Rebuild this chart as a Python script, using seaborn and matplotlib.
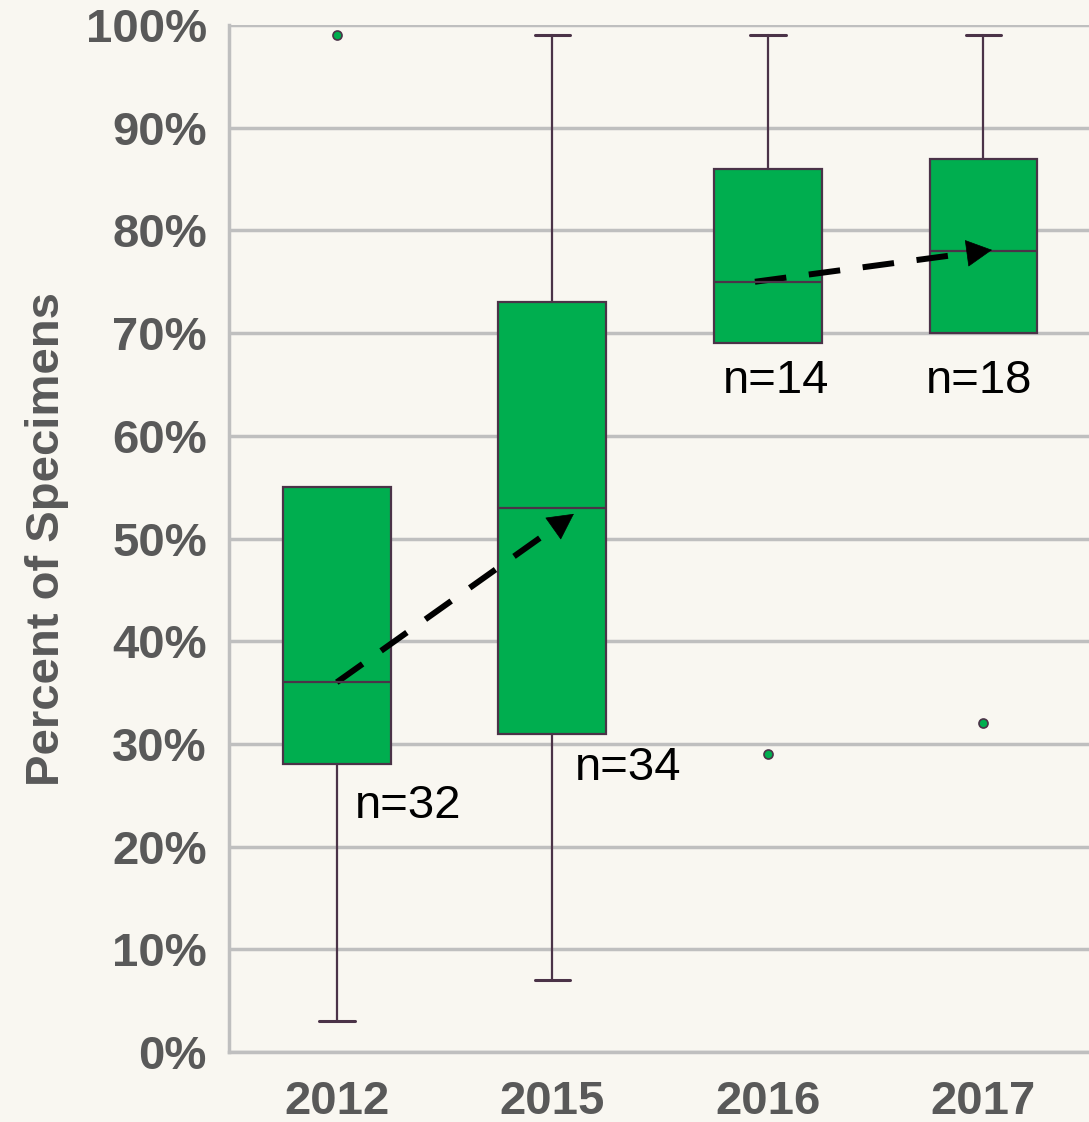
import matplotlib
matplotlib.use("Agg")
import matplotlib.pyplot as plt
import numpy as np
import seaborn as sns

# box statistics (percent)
years = ["2012", "2015", "2016", "2017"]
whis_lo = [3, 7, 69, 70]
q1 = [28, 31, 69, 70]
median = [36, 53, 75, 78]
q3 = [55, 73, 86, 87]
whis_hi = [55, 99, 99, 99]
outliers = [[99], [], [29], [32]]

n_labels = ["n=32", "n=34", "n=14", "n=18"]
n_x = [0.33, 1.35, 2.04, 2.98]
n_y = [24.0, 27.7, 65.3, 65.3]

# trend arrows (start, end) in data coords
arrows = [((0.0, 36.0), (1.10, 52.4)), ((1.94, 75.0), (3.04, 78.1))]

bg = "#F9F7F1"
green = "#00AE4F"
edge = "#4B3348"
grey = "#BFBFBF"
txt = "#595959"

sns.set_theme(style="whitegrid", rc={
    "axes.facecolor": bg, "figure.facecolor": bg,
    "grid.color": grey, "grid.linewidth": 2.5,
    "axes.edgecolor": grey, "axes.linewidth": 2.5,
})
plt.rcParams["font.family"] = ["Liberation Sans", "DejaVu Sans"]

fig = plt.figure(figsize=(10.89, 11.22), dpi=100)
ax = fig.add_axes([0.2103, 0.0624, 0.7897, 0.9153])

stats = []
for i, y in enumerate(years):
    stats.append(dict(label=y, whislo=whis_lo[i], q1=q1[i], med=median[i],
                      q3=q3[i], whishi=whis_hi[i], fliers=outliers[i]))

parts = ax.bxp(stats, positions=range(len(years)), widths=0.5, capwidths=0.165,
               patch_artist=True, showfliers=True,
               boxprops=dict(facecolor=green, edgecolor=edge, linewidth=1.6),
               medianprops=dict(color=edge, linewidth=1.6),
               whiskerprops=dict(color=edge, linewidth=1.6),
               capprops=dict(color=edge, linewidth=2.2),
               flierprops=dict(marker="o", markerfacecolor=green, markeredgecolor=edge,
                               markersize=6.5, markeredgewidth=1.2))
# no caps where the whisker has zero length
for i in range(len(years)):
    if whis_lo[i] == q1[i]:
        parts["caps"][2 * i].set_visible(False)
    if whis_hi[i] == q3[i]:
        parts["caps"][2 * i + 1].set_visible(False)

ax.set_xlim(-0.5, 3.49)
ax.set_ylim(0, 100)

head_px = 25
to_px = ax.transData
to_data = ax.transData.inverted()
for (s, e) in arrows:
    ps, pe = to_px.transform(s), to_px.transform(e)
    d = (pe - ps) / np.hypot(*(pe - ps))
    base = to_data.transform(pe - d * head_px)
    ax.plot([s[0], base[0]], [s[1], base[1]], color="black", lw=4.3,
            ls=(0, (5.3, 3.8)), solid_capstyle="butt", dash_capstyle="butt")
    ax.annotate("", xy=e, xytext=base,
                arrowprops=dict(arrowstyle="-|>,head_length=0.8,head_width=0.42",
                                lw=0.5, color="black", mutation_scale=22,
                                shrinkA=0, shrinkB=0))

for lab, x, y in zip(n_labels, n_x, n_y):
    ax.text(x, y, lab, ha="center", va="center", fontsize=34, color="black")

ax.set_yticks(range(0, 101, 10))
ax.set_yticklabels([f"{v}%" for v in range(0, 101, 10)])
ax.set_xticks(range(len(years)))
ax.set_xticklabels(years)
ax.grid(axis="x", visible=False)
ax.grid(axis="y", visible=True)
ax.set_axisbelow(True)
for side in ["top", "right"]:
    ax.spines[side].set_visible(False)

ax.tick_params(axis="both", length=0, labelsize=34, labelcolor=txt)
ax.tick_params(axis="y", pad=16)
ax.tick_params(axis="x", pad=20)
for t in ax.get_xticklabels() + ax.get_yticklabels():
    t.set_fontweight("bold")
ax.set_ylabel("Percent of Specimens", fontsize=34, fontweight="bold",
              color=txt, labelpad=12)

fig.savefig("out.png", dpi=100, facecolor=bg)
